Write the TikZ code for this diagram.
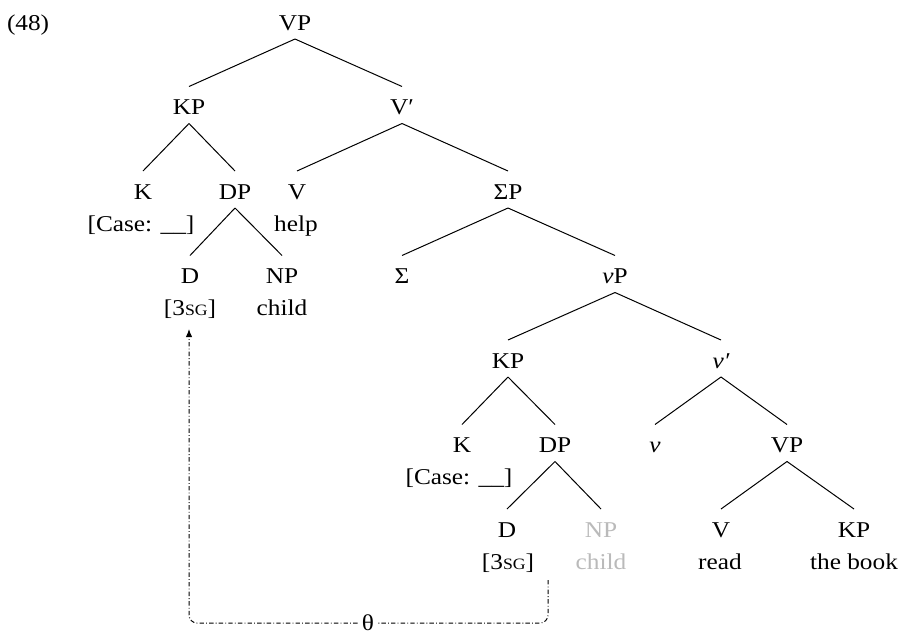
\documentclass[tikz,border=0pt]{standalone}
\usepackage{fontspec}
\setmainfont{Liberation Serif}[FakeStretch=1.12]
\usetikzlibrary{calc,arrows.meta}
\newcommand{\fakesc}[1]{{\fontsize{7.9}{9}\selectfont #1}}
\newcommand{\treeedge}[2]{\draw[treeline] ($(#1.base)+(0,9)$) -- ($(#2.base)+(0,-28)$);}
\tikzset{
  lbl/.style={anchor=base,inner sep=0pt,outer sep=0pt},
  ghost/.style={lbl,text=black!27},
  treeline/.style={line width=0.5pt},
  thetaline/.style={line width=0.5pt,dash pattern=on 2.2pt off 1.1pt on 0.4pt off 1.1pt,rounded corners=4pt},
}
\begin{document}
\begin{tikzpicture}[x=0.5pt,y=-0.5pt,font=\fontsize{11.3}{13.6}\selectfont]
\useasboundingbox (0,0) rectangle (905,633);
\node[lbl,anchor=base west] (ex) at (7,30) {(48)};
% row 0
\node[lbl] (vp0) at (295,30) {VP};
% row 1
\node[lbl] (kp1) at (189,114.5) {KP};
\node[lbl] (vb1) at (402,114.5) {V′};
% row 2
\node[lbl] (k2) at (143,199) {K};
\node[lbl] (k2f) at (141,231) {[Case: \_\_]};
\node[lbl] (dp2) at (235,199) {DP};
\node[lbl] (v2) at (297,199) {V};
\node[lbl] (v2f) at (296,231) {help};
\node[lbl] (sp2) at (508,199) {ΣP};
% row 3
\node[lbl] (d3) at (190,283.5) {D};
\node[lbl] (d3f) at (190,315.5) {[3\fakesc{SG}]};
\node[lbl] (np3) at (282,283.5) {NP};
\node[lbl] (np3f) at (282,315.5) {child};
\node[lbl] (s3) at (402,283.5) {Σ};
\node[lbl] (vvp3) at (615,283.5) {{\itshape ν}P};
% row 4
\node[lbl] (kp4) at (508,368) {KP};
\node[lbl] (vvb4) at (721,368) {{\itshape ν′}};
% row 5
\node[lbl] (k5) at (462,452.5) {K};
\node[lbl] (k5f) at (459,484.5) {[Case: \_\_]};
\node[lbl] (dp5) at (555,452.5) {DP};
\node[lbl] (vv5) at (655,452.5) {{\itshape ν}};
\node[lbl] (vp5) at (787,452.5) {VP};
% row 6
\node[lbl] (d6) at (507,537) {D};
\node[lbl] (d6f) at (508,569) {[3\fakesc{SG}]};
\node[ghost] (np6) at (601,537) {NP};
\node[ghost] (np6f) at (601,569) {child};
\node[lbl] (v6) at (721,537) {V};
\node[lbl] (v6f) at (720,569) {read};
\node[lbl] (kp6) at (854,537) {KP};
\node[lbl] (kp6f) at (854,569) {the book};
% edges
\treeedge{vp0}{kp1}
\treeedge{vp0}{vb1}
\treeedge{kp1}{k2}
\treeedge{kp1}{dp2}
\treeedge{vb1}{v2}
\treeedge{vb1}{sp2}
\treeedge{dp2}{d3}
\treeedge{dp2}{np3}
\treeedge{sp2}{s3}
\treeedge{sp2}{vvp3}
\treeedge{vvp3}{kp4}
\treeedge{vvp3}{vvb4}
\treeedge{kp4}{k5}
\treeedge{kp4}{dp5}
\treeedge{vvb4}{vv5}
\treeedge{vvb4}{vp5}
\treeedge{dp5}{d6}
\treeedge{dp5}{np6}
\treeedge{vp5}{v6}
\treeedge{vp5}{kp6}
% theta path
\coordinate (thstart) at (548,580);
\coordinate (thend) at (189,329);
\node[inner sep=2pt,fill=white] (th) at (368,623) {θ};
\draw[thetaline] (thstart) -- (548,623) -- (th.east);
\draw[thetaline,-{Latex[length=4pt,width=3.2pt]}] (th.west) -- (189,623) -- (thend);
\end{tikzpicture}
\end{document}
